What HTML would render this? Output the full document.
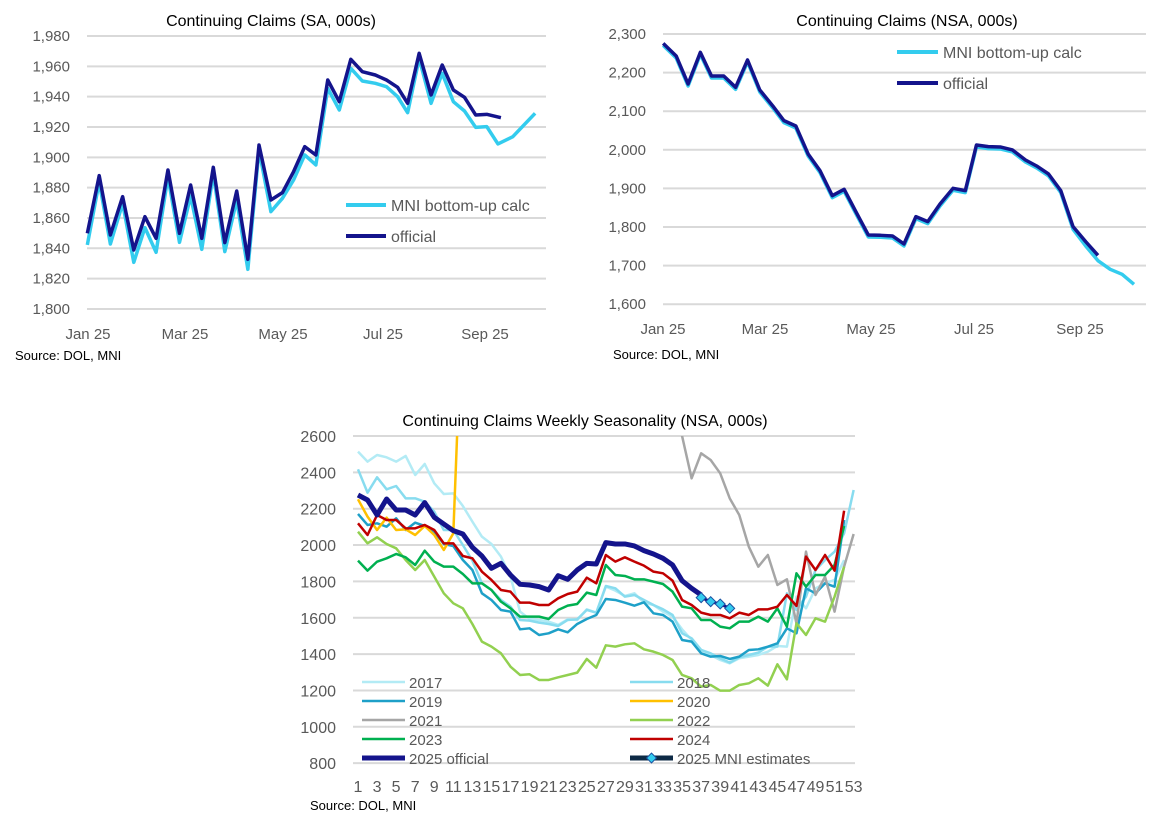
<!DOCTYPE html>
<html><head><meta charset="utf-8"><style>
body{margin:0;background:#fff;width:1167px;height:813px;overflow:hidden}
svg{font-family:"Liberation Sans",sans-serif}
</style></head><body>
<svg id="s" width="1167" height="813" xmlns="http://www.w3.org/2000/svg"></svg>
<script>
const S=document.getElementById('s');let h='';
function txt(x,y,t,o){o=o||{};h+=`<text x="${x}" y="${y}" font-size="${o.fs||15}" fill="${o.c||'#595959'}" text-anchor="${o.a||'start'}">${t}</text>`;}
function line(x1,y1,x2,y2,c,w){h+=`<line x1="${x1}" y1="${y1}" x2="${x2}" y2="${y2}" stroke="${c}" stroke-width="${w}"/>`;}
function poly(ox,oy,pts,c,w,clip){h+=`<g transform="translate(${ox},${oy}) scale(0.3716,0.3333)" ${clip?`clip-path="url(#${clip})"`:''}><polyline fill="none" stroke="${c}" stroke-width="${w}" stroke-linejoin="round" vector-effect="non-scaling-stroke" points="${pts.map(p=>p.join(',')).join(' ')}"/></g>`;}
h+=`<defs><clipPath id="cb"><rect x="0" y="48" width="1600" height="1000"/></clipPath></defs>`;
// ---- top-left
for(let i=0;i<10;i++){let y=36+i*30.33;line(87,y,546,y,'#d9d9d9',2);txt(70,y+5,(1980-i*20).toLocaleString('en-US'),{a:'end',fs:15});}
txt(271,26,'Continuing Claims (SA, 000s)',{c:'#000',a:'middle',fs:16});
[['Jan 25',88],['Mar 25',185],['May 25',283],['Jul 25',383],['Sep 25',485]].forEach(l=>txt(l[1],339,l[0],{a:'middle'}));
txt(15,360,'Source: DOL, MNI',{c:'#000',fs:13});
const mniL=[[235,735],[267,545],[297,732],[330,610],[360,787],[390,683],[420,757],[452,530],[483,727],[513,588],[543,748],[574,520],[605,755],[637,600],[667,808],[697,450],[729,635],[760,595],[790,540],[820,465],[850,495],[882,265],[913,330],[944,205],[975,243],[1010,250],[1040,260],[1070,290],[1097,338],[1128,175],[1160,310],[1190,220],[1220,305],[1250,333],[1280,382],[1310,380],[1340,432],[1380,410],[1440,340]];
const offL=[[235,700],[267,527],[297,705],[330,590],[360,750],[390,650],[420,715],[452,510],[483,700],[513,555],[543,715],[574,502],[605,728],[637,573],[667,778],[697,435],[729,600],[760,578],[790,515],[820,440],[850,465],[882,240],[913,305],[944,178],[975,215],[1010,225],[1040,240],[1070,262],[1097,310],[1128,160],[1160,285],[1190,195],[1220,270],[1250,292],[1280,345],[1310,343],[1348,353]];
poly(0,0,mniL,'#33ccee',3.5);poly(0,0,offL,'#14148c',3.5);
line(346,205,386,205,'#33ccee',4);txt(391,211,'MNI bottom-up calc',{fs:16});
line(346,236,386,236,'#14148c',4);txt(391,242,'official',{fs:16});
// ---- top-right
for(let i=0;i<8;i++){let y=34+i*38.6;line(663,y,1146,y,'#d9d9d9',2);txt(646,y+5,(2300-i*100).toLocaleString('en-US'),{a:'end',fs:15});}
txt(907,26,'Continuing Claims (NSA, 000s)',{c:'#000',a:'middle',fs:16});
[['Jan 25',663],['Mar 25',765],['May 25',871],['Jul 25',974],['Sep 25',1080]].forEach(l=>txt(l[1],334,l[0],{a:'middle'}));
txt(613,359,'Source: DOL, MNI',{c:'#000',fs:13});
const offR=[[205,130],[240,168],[272,252],[305,157],[335,228],[368,228],[400,262],[432,180],[465,270],[500,318],[530,362],[562,378],[595,462],[627,512],[660,587],[692,568],[725,638],[757,705],[790,706],[822,708],[853,732],[885,650],[917,665],[950,612],[985,565],[1018,572],[1048,435],[1080,440],[1112,441],[1145,450],[1180,480],[1210,498],[1242,522],[1275,572],[1308,680],[1342,725],[1375,766]];
const mniR=offR.slice(0,34).map(p=>[p[0],p[1]+6]).concat([[1308,688],[1342,738],[1375,782],[1408,808],[1440,823],[1472,853]]);
poly(587,0,mniR,'#33ccee',3.5);poly(587,0,offR,'#14148c',3.5);
line(897,52,938,52,'#33ccee',4);txt(943,58,'MNI bottom-up calc',{fs:16});
line(897,83,938,83,'#14148c',4);txt(943,89,'official',{fs:16});
// ---- bottom
for(let i=0;i<10;i++){let y=436+i*36.35;line(353,y,855,y,'#d9d9d9',2);txt(336,y+6,2600-i*200,{a:'end',fs:16});}
txt(585,426,'Continuing Claims Weekly Seasonality (NSA, 000s)',{c:'#000',a:'middle',fs:16});
for(let w=1;w<=53;w+=2){txt(290+(183+(w-1)*25.65)*0.3716,792,w,{a:'middle',fs:16});}
txt(310,810,'Source: DOL, MNI',{c:'#000',fs:13});
const X=w=>183+(w-1)*25.65;
const mk=(a,s)=>a.map((y,i)=>[X(i+(s||1)),y]);
const S2017=[95,125,105,112,125,108,165,132,190,222,220,258,305,350,372,410,470,575,597,600,605,615,598,600,568,578,500,512,528,520,548,555,575,590,628,660,690,705,720,730,715,710,705,695,678,680,530,565,505,490,480,420];
const S2018=[148,218,172,208,198,235,235,245,275,330,330,375,422,490,510,540,560,600,602,608,612,618,600,598,570,578,498,505,530,525,540,555,568,585,640,655,690,700,715,728,712,705,698,680,680,520,570,530,450,420,395,340,210];
const S2019=[282,315,310,320,295,330,308,318,335,372,378,420,450,520,540,570,575,628,625,645,640,628,637,612,597,585,537,540,548,557,547,580,585,605,660,665,700,710,708,717,710,690,688,680,670,625,640,505,520,490,500,300];
const S2020=[238,290,330,293,330,328,345,318,345,390,340,-400];
const S2021=[-200,48,175,100,120,160,235,285,380,440,405,495,478,610,395,525,470,575,440,342];
const S2022=[335,370,352,372,385,420,450,420,470,520,550,565,612,665,680,700,740,765,763,780,780,772,765,758,717,743,676,680,673,670,688,695,705,720,765,775,800,795,812,812,795,790,775,797,733,778,610,645,595,605,530,440];
const S2023=[422,452,425,415,402,412,435,392,425,440,440,462,490,490,510,545,565,590,590,590,597,570,557,552,518,525,435,465,468,478,478,485,492,515,560,565,600,600,620,625,605,605,590,605,565,620,460,500,465,465,435,318];
const S2024=[310,345,285,300,300,325,325,315,330,370,370,408,415,455,480,510,515,548,548,555,555,535,522,515,473,490,405,425,412,425,437,455,460,482,540,555,578,585,585,595,578,585,568,568,560,525,558,410,450,405,452,272];
const S2025=[225,240,285,237,270,270,285,248,292,312,332,342,382,408,445,430,465,493,495,500,510,467,478,450,430,432,368,372,372,378,392,402,415,435,482,505,525];
poly(290,420,mk(S2017),'#b3ebf5',2.5,'cb');
poly(290,420,mk(S2018),'#88dcef',2.5,'cb');
poly(290,420,mk(S2019),'#1ea0c8',2.5,'cb');
poly(290,420,mk(S2020),'#ffc000',2.5,'cb');
poly(290,420,mk(S2021,34),'#a6a6a6',2.5,'cb');
poly(290,420,mk(S2022),'#92d050',2.5,'cb');
poly(290,420,mk(S2023),'#00b050',2.5,'cb');
poly(290,420,mk(S2024),'#c00000',2.5,'cb');
poly(290,420,mk(S2025),'#14148c',5,'cb');
const est=[533,545,552,565];
poly(290,420,est.map((y,i)=>[X(37+i),y]),'#14148c',3);
est.forEach((y,i)=>{let cx=290+X(37+i)*0.3716,cy=420+y/3;h+=`<rect x="${cx-3.5}" y="${cy-3.5}" width="7" height="7" fill="#33ccee" stroke="#1a4fa0" stroke-width="1" transform="rotate(45 ${cx} ${cy})"/>`;});
const leg=[['2017','#b3ebf5',2.5],['2018','#88dcef',2.5],['2019','#1ea0c8',2.5],['2020','#ffc000',2.5],['2021','#a6a6a6',2.5],['2022','#92d050',2.5],['2023','#00b050',2.5],['2024','#c00000',2.5],['2025 official','#14148c',5],['2025 MNI estimates','#0d2a45',5]];
leg.forEach((l,i)=>{let col=i%2,row=Math.floor(i/2);let x1=col?630:362,y=682+row*19;line(x1,y,x1+43,y,l[1],l[2]);txt(x1+47,y+6,l[0],{fs:15});});
h+=`<rect x="648" y="754.5" width="7" height="7" fill="#33ccee" stroke="#1a4fa0" transform="rotate(45 651.5 758)"/>`;
S.innerHTML=h;
</script>
</body></html>
